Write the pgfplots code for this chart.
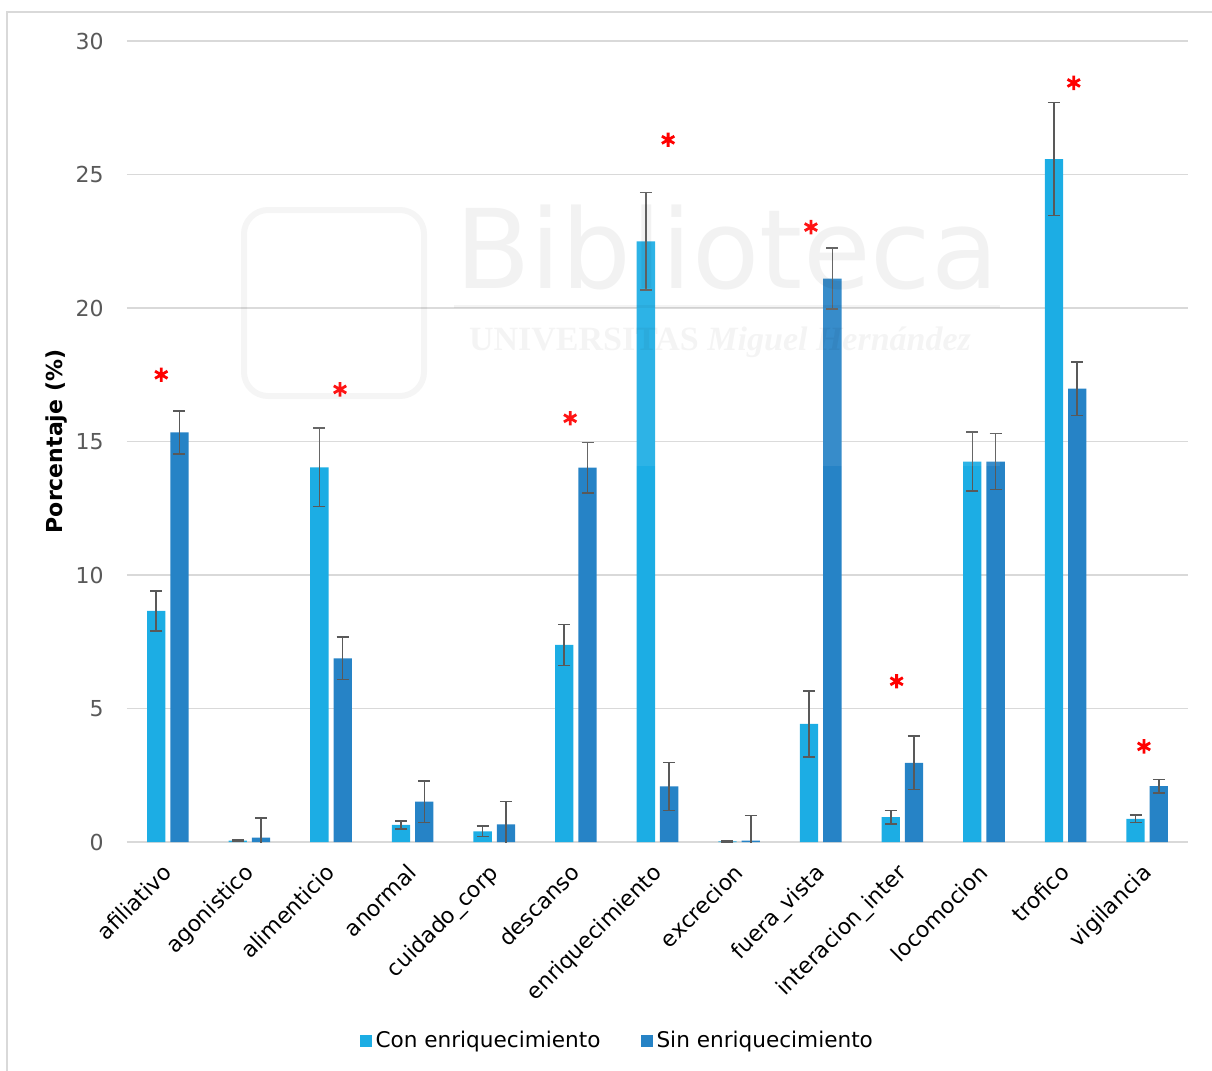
\documentclass[border=0pt]{standalone}
\usepackage{fontspec}
\setmainfont{DejaVu Sans}
\newfontfamily\sello{Liberation Serif}
\usepackage{pgfplots}
\usepackage{pgfplotstable}
\pgfplotsset{compat=1.18}

\definecolor{conblue}{HTML}{1CADE4}
\definecolor{sinblue}{HTML}{2683C6}
\definecolor{gridgray}{HTML}{D9D9D9}
\definecolor{errgray}{HTML}{595959}
\definecolor{ticktext}{HTML}{595959}

% Porcentaje de tiempo por conducta (media y error)
\pgfplotstableread{
idx con   conerr sin   sinerr
0   8.66  0.75   15.34 0.81
1   0.05  0.02   0.16  0.75
2   14.03 1.47   6.88  0.79
3   0.64  0.15   1.51  0.78
4   0.40  0.20   0.66  0.86
5   7.38  0.77   14.02 0.95
6   22.50 1.82   2.08  0.90
7   0.02  0.01   0.05  0.95
8   4.42  1.23   21.10 1.14
9   0.93  0.25   2.96  1.00
10  14.25 1.10   14.25 1.05
11  25.58 2.12   16.98 1.00
12  0.87  0.14   2.09  0.25
}\conducta

% Diferencias significativas
\pgfplotstableread{
x      y
-0.08  17.50
2.11   16.95
4.93   15.87
6.13   26.30
7.88   23.03
8.93   6.02
11.10  28.43
11.96  3.58
}\signif

\begin{document}
\begin{tikzpicture}
\useasboundingbox (0,0) rectangle (606pt,-535.5pt);
\draw[gridgray, line width=1pt] (3.5pt,-540pt) -- (3.5pt,-6pt) -- (610pt,-6pt);
\begin{axis}[
  at={(63.5pt,-421pt)}, anchor=south west,
  scale only axis, width=530.5pt, height=400.5pt,
  xmin=-0.5, xmax=12.5, ymin=0, ymax=30,
  xtick={0,...,12},
  xticklabels={afiliativo, agonistico, alimenticio, anormal, cuidado\_corp, descanso, enriquecimiento, excrecion, fuera\_vista, interacion\_inter, locomocion, trofico, vigilancia},
  ytick={0,5,...,30},
  ymajorgrids, major grid style={gridgray, line width=0.75pt},
  axis line style={draw=none},
  tick style={draw=none},
  /pgf/number format/assume math mode=true,
  tick label style={font=\fontsize{11}{13}\selectfont},
  yticklabel style={ticktext, anchor=east, inner sep=0pt, xshift=-11.5pt},
  xticklabel style={black, xshift=-3.25pt, yshift=-10pt, rotate=45, anchor=north east, inner sep=0pt},
  every axis y label/.style={at={(axis description cs:-0.066,0.5)}, rotate=90, anchor=center, font=\bfseries\fontsize{11}{13}\selectfont},
  ylabel={Porcentaje (\%)},
  legend style={at={(axis description cs:0.463,-0.2484)}, anchor=center, draw=none, fill=none,
    legend columns=2, font=\fontsize{10.8}{13}\selectfont,
    /tikz/every even column/.append style={column sep=18pt}},
  legend image code/.code={\fill[#1] (0pt,-3pt) rectangle (6pt,3pt);},
  error bars/error bar style={errgray, line width=0.8pt},
  error bars/error mark options={errgray, line width=0.8pt, mark size=3pt, rotate=90},
]
\addplot[ybar, bar width=9.15pt, bar shift=0pt, fill=conblue, draw=none,
  error bars/.cd, y dir=both, y explicit]
  table[x expr=\thisrow{idx}-0.1427, y=con, y error=conerr] {\conducta};
\addlegendentry{Con enriquecimiento}
\addplot[ybar, bar width=9.15pt, bar shift=0pt, fill=sinblue, draw=none,
  error bars/.cd, y dir=both, y explicit]
  table[x expr=\thisrow{idx}+0.1427, y=sin, y error=sinerr] {\conducta};
\addlegendentry{Sin enriquecimiento}
\addplot[only marks, mark=asterisk, red, mark size=3.6pt,
  mark options={line width=1.4pt}, forget plot]
  table[x=x, y=y] {\signif};
\end{axis}
% sello de la biblioteca, muy tenue
\fill[white, opacity=0.08] (115pt,-95pt) rectangle (500pt,-233pt);
\node[anchor=base, black, opacity=0.05, font=\fontsize{55}{60}\selectfont, inner sep=0pt]
  at (363.5pt,-144pt) {Biblioteca};
\draw[black, opacity=0.045, line width=1.5pt] (227pt,-153pt) -- (500pt,-153pt);
\node[anchor=base, black, opacity=0.045, font=\sello\bfseries\fontsize{17}{20}\selectfont, inner sep=0pt]
  at (360pt,-175pt) {UNIVERSITAS \itshape Miguel Hernández};
\draw[black, opacity=0.04, line width=3pt, rounded corners=12pt] (122pt,-105pt) rectangle (212pt,-198pt);
\end{tikzpicture}
\end{document}
